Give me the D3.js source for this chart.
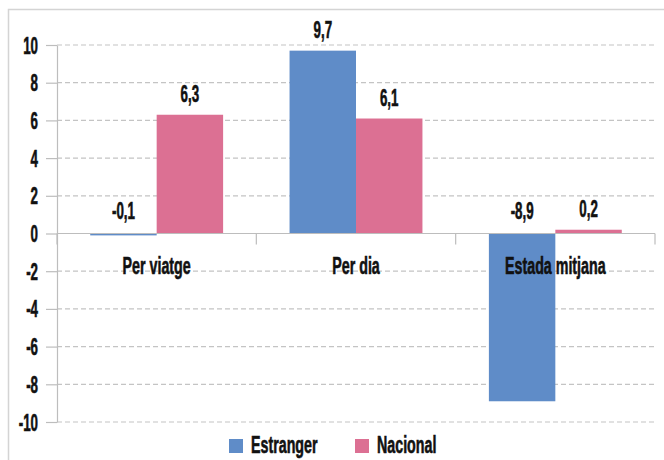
<!DOCTYPE html>
<html>
<head>
<meta charset="utf-8">
<script src="https://cdn.jsdelivr.net/npm/d3@7"></script>
<style>
  body { margin: 0; background: #fff; }
  text { font-family: 'Liberation Sans', Arial, sans-serif; font-weight: bold; fill: #111; stroke: #111; stroke-width: 0.6px; }
</style>
</head>
<body>
<div id="graph"></div>
<script>
const categories = ['Per viatge', 'Per dia', 'Estada mitjana'];
const series = ['Estranger', 'Nacional'];
const estranger = [-0.1, 9.7, -8.9];
const nacional = [6.3, 6.1, 0.2];
const yTicks = [-10, -8, -6, -4, -2, 0, 2, 4, 6, 8, 10];

const colors = { Estranger: '#5f8cc8', Nacional: '#dc7093' };
const values = { Estranger: estranger, Nacional: nacional };

const W = 664;
const H = 460;
const margin = { top: 45, right: 9, bottom: 38, left: 57 };
const width = W - margin.left - margin.right;
const height = H - margin.top - margin.bottom;

const FS = 23;
const SQ_WORD = 0.62;
const SQ_NUM = 0.58;

const svg = d3.select('#graph')
  .append('svg')
  .attr('width', W)
  .attr('height', H);

// outer frame (cropped on right / bottom)
svg.append('rect')
  .attr('x', 8.5)
  .attr('y', 9.5)
  .attr('width', 720)
  .attr('height', 520)
  .attr('fill', 'none')
  .attr('stroke', '#d4d4d4')
  .attr('stroke-width', 1.5);

const g = svg.append('g')
  .attr('transform', `translate(${margin.left},${margin.top})`);

const yScale = d3.scaleLinear().domain([-10, 10]).range([height, 0]);
const x0 = d3.scaleBand().domain(categories).range([0, width]).padding(0);
const bw = x0.bandwidth();
const x1 = d3.scaleBand().domain(series).range([bw / 6, bw * 5 / 6]).padding(0);

// condensed look: squeeze text horizontally around its anchor
const squeezed = (sel, k) => sel
  .attr('transform', function () {
    const t = d3.select(this);
    return `translate(${t.attr('x')},${t.attr('y')}) scale(${k},1)`;
  })
  .attr('x', 0)
  .attr('y', 0);

// gridlines
g.append('g')
  .selectAll('line')
  .data(yTicks.filter((d) => d !== 0))
  .enter()
  .append('line')
  .attr('x1', 0)
  .attr('x2', width)
  .attr('y1', (d) => yScale(d))
  .attr('y2', (d) => yScale(d))
  .attr('stroke', '#c4c4c4')
  .attr('stroke-width', 1.2)
  .attr('stroke-dasharray', '5,3');

// y axis
const yAxis = d3.axisLeft(yScale)
  .tickValues(yTicks)
  .tickSize(11)
  .tickSizeOuter(0)
  .tickFormat((d) => String(d));

const yG = g.append('g').attr('class', 'y-axis').call(yAxis);
yG.select('.domain').attr('stroke', '#bdbdbd').attr('stroke-width', 1.2);
yG.selectAll('.tick line').attr('stroke', '#bdbdbd').attr('stroke-width', 1.2);
yG.selectAll('.tick text')
  .attr('font-family', null)
  .attr('font-size', FS)
  .attr('dy', null)
  .attr('x', -19)
  .attr('y', 8)
  .call((s) => squeezed(s, SQ_NUM));

// bars
const groups = g.append('g')
  .selectAll('g')
  .data(categories)
  .enter()
  .append('g')
  .attr('transform', (d) => `translate(${x0(d)},0)`);

groups.selectAll('rect')
  .data((c, i) => series.map((s) => ({ s, v: values[s][i] })))
  .enter()
  .append('rect')
  .attr('x', (d) => x1(d.s))
  .attr('width', x1.bandwidth())
  .attr('y', (d) => yScale(Math.max(0, d.v)))
  .attr('height', (d) => Math.abs(yScale(d.v) - yScale(0)))
  .attr('fill', (d) => colors[d.s]);

// x axis line and category ticks
g.append('line')
  .attr('x1', 0)
  .attr('x2', width)
  .attr('y1', yScale(0))
  .attr('y2', yScale(0))
  .attr('stroke', '#bdbdbd')
  .attr('stroke-width', 1.2);

g.append('g')
  .selectAll('line')
  .data(categories.map((c) => x0(c)).concat([width]))
  .enter()
  .append('line')
  .attr('x1', (d) => d)
  .attr('x2', (d) => d)
  .attr('y1', yScale(0))
  .attr('y2', yScale(0) + 11)
  .attr('stroke', '#bdbdbd')
  .attr('stroke-width', 1.2);

// category labels
g.append('g')
  .selectAll('text')
  .data(categories)
  .enter()
  .append('text')
  .attr('x', (d) => x0(d) + bw / 2)
  .attr('y', yScale(0) + 40)
  .attr('text-anchor', 'middle')
  .attr('font-size', FS)
  .text((d) => d)
  .call((s) => squeezed(s, SQ_WORD));

// value labels
groups.selectAll('text')
  .data((c, i) => series.map((s) => ({ s, v: values[s][i] })))
  .enter()
  .append('text')
  .attr('x', (d) => x1(d.s) + x1.bandwidth() / 2)
  .attr('y', (d) => (d.v >= 0 ? yScale(d.v) - 13 : yScale(0) - 15))
  .attr('text-anchor', 'middle')
  .attr('font-size', FS)
  .text((d) => d.v.toFixed(1).replace('.', ','))
  .call((s) => squeezed(s, SQ_NUM));

// legend
const legendPos = { Estranger: 229, Nacional: 355 };
const legend = svg.append('g')
  .selectAll('g')
  .data(series)
  .enter()
  .append('g')
  .attr('transform', (d) => `translate(${legendPos[d]},439)`);

legend.append('rect')
  .attr('width', 14)
  .attr('height', 14)
  .attr('fill', (d) => colors[d]);

legend.append('text')
  .attr('x', 22)
  .attr('y', 14)
  .attr('font-size', FS)
  .text((d) => d)
  .call((s) => squeezed(s, SQ_WORD));
</script>
</body>
</html>
